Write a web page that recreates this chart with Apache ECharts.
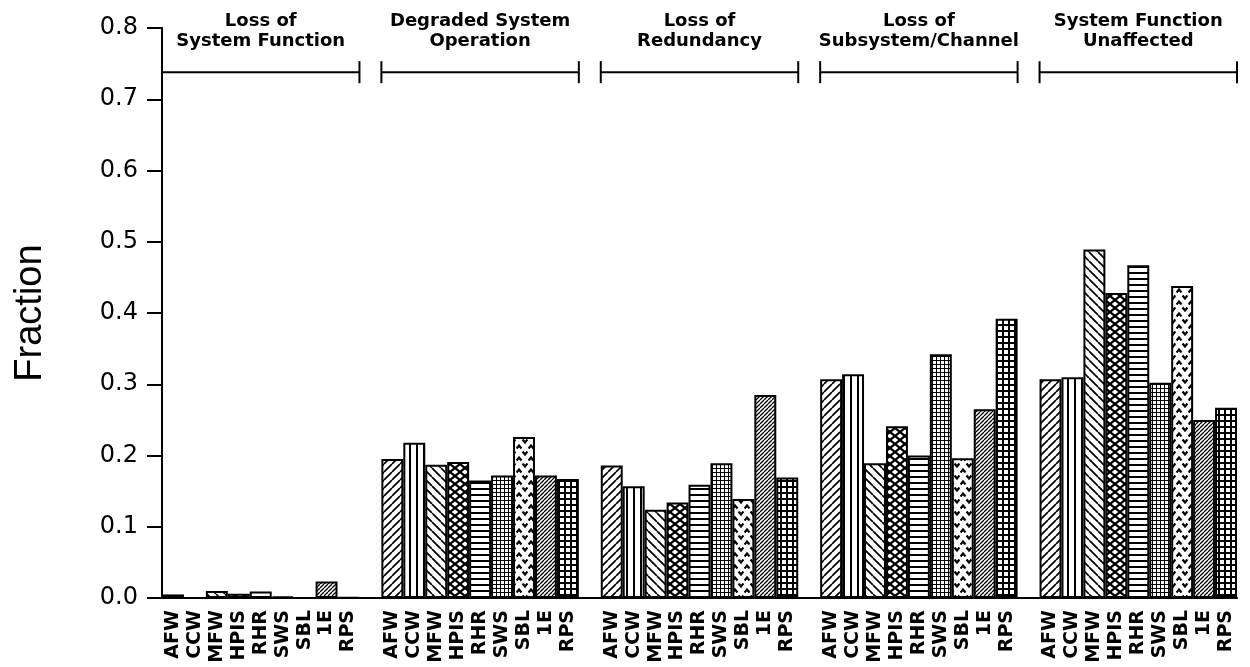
<!DOCTYPE html>
<html>
<head>
<meta charset="utf-8">
<title>Fraction by failure effect</title>
<script src="https://cdn.jsdelivr.net/npm/echarts@6/dist/echarts.min.js"></script>
<style>
  html, body { margin: 0; padding: 0; background: #fff; }
  #main { width: 1250px; height: 667px; }
</style>
</head>
<body>
<div id="main"></div>
<script>
// data
var systems = ["AFW", "CCW", "MFW", "HPIS", "RHR", "SWS", "SBL", "1E", "RPS"];
var groupTitles = [
  ["Loss of", "System Function"],
  ["Degraded System", "Operation"],
  ["Loss of", "Redundancy"],
  ["Loss of", "Subsystem/Channel"],
  ["System Function", "Unaffected"]
];
var lossOfFunction = [0.005, 0.0, 0.01, 0.006, 0.009, 0.002, 0.0, 0.023, 0.001];
var degradedOperation = [0.195, 0.218, 0.187, 0.191, 0.165, 0.172, 0.226, 0.172, 0.167];
var lossOfRedundancy = [0.186, 0.157, 0.124, 0.134, 0.159, 0.189, 0.139, 0.285, 0.169];
var lossOfSubsystem = [0.307, 0.314, 0.189, 0.241, 0.2, 0.342, 0.196, 0.265, 0.392];
var functionUnaffected = [0.307, 0.31, 0.489, 0.428, 0.467, 0.302, 0.438, 0.25, 0.267];
var yTicks = [0, 0.1, 0.2, 0.3, 0.4, 0.5, 0.6, 0.7, 0.8];

var groupValues = [lossOfFunction, degradedOperation, lossOfRedundancy, lossOfSubsystem, functionUnaffected];

void (function() {
  var myChart = echarts.init(document.getElementById("main"));
  var font = "DejaVu Sans";

  // hatch patterns, one per system
  function tile(w, h, draw) {
    var c = document.createElement("canvas");
    c.width = w;
    c.height = h;
    var ctx = c.getContext("2d");
    ctx.fillStyle = "#fff";
    ctx.fillRect(0, 0, w, h);
    ctx.strokeStyle = "#000";
    ctx.fillStyle = "#000";
    draw(ctx, w, h);
    return { image: c, repeat: "repeat" };
  }
  function diag(ctx, s, up) {
    ctx.beginPath();
    for (var k = -s; k <= s; k += s) {
      if (up) {
        ctx.moveTo(k, s);
        ctx.lineTo(k + s, 0);
      } else {
        ctx.moveTo(k, 0);
        ctx.lineTo(k + s, s);
      }
    }
    ctx.stroke();
  }
  var patterns = [
    tile(8, 8, function(ctx, w) { ctx.lineWidth = 1.7; diag(ctx, w, true); }),
    tile(7, 4, function(ctx) { ctx.fillRect(3, 0, 2, 4); }),
    tile(9, 9, function(ctx, w) { ctx.lineWidth = 1.7; diag(ctx, w, false); }),
    tile(10, 8, function(ctx) {
      ctx.lineWidth = 2.2;
      ctx.beginPath();
      ctx.moveTo(0, 0); ctx.lineTo(10, 8);
      ctx.moveTo(10, 0); ctx.lineTo(0, 8);
      ctx.stroke();
    }),
    tile(4, 6, function(ctx) { ctx.fillRect(0, 2, 4, 2); }),
    tile(4, 4, function(ctx) { ctx.fillRect(0, 0, 4, 1); ctx.fillRect(0, 0, 1, 4); }),
    tile(12, 12, function(ctx) {
      ctx.lineWidth = 2.2;
      ctx.beginPath();
      ctx.moveTo(0.5, 4.5); ctx.lineTo(3, 1.5); ctx.lineTo(5.5, 4.5);
      ctx.moveTo(6.5, 7.5); ctx.lineTo(9, 10.5); ctx.lineTo(11.5, 7.5);
      ctx.stroke();
    }),
    tile(4, 4, function(ctx, w) { ctx.lineWidth = 1.3; diag(ctx, w, true); }),
    tile(6, 6, function(ctx) { ctx.fillRect(0, 0, 6, 2); ctx.fillRect(0, 0, 2, 6); })
  ];

  // flatten groups into one category axis with a blank slot between groups
  var categories = [];
  var seriesData = [];
  for (var g = 0; g < groupValues.length; g++) {
    if (g > 0) {
      categories.push(" ".repeat(g));
      seriesData.push("-");
    }
    for (var i = 0; i < systems.length; i++) {
      categories.push(systems[i] + "_" + g);
      seriesData.push({
        value: groupValues[g][i],
        itemStyle: { color: patterns[i] }
      });
    }
  }

  var option = {
    backgroundColor: "#fff",
    animation: false,
    grid: { left: 162, right: 13, top: 28, bottom: 69 },
    xAxis: {
      type: "category",
      data: categories,
      axisLine: { lineStyle: { color: "#000", width: 2 } },
      axisTick: { show: false },
      axisLabel: {
        interval: 0,
        rotate: 90,
        margin: 12,
        color: "#000",
        fontFamily: font,
        fontWeight: "bold",
        fontSize: 19,
        formatter: function(v) { return v.trim() ? v.split("_")[0] : ""; }
      }
    },
    yAxis: {
      type: "value",
      min: yTicks[0],
      max: yTicks[yTicks.length - 1],
      interval: 0.1,
      name: "Fraction",
      nameLocation: "middle",
      nameGap: 112,
      nameTextStyle: { color: "#000", fontFamily: "Liberation Sans", fontSize: 38 },
      splitLine: { show: false },
      axisLine: { show: true, lineStyle: { color: "#000", width: 2 } },
      axisTick: { show: true, length: 15, lineStyle: { color: "#000", width: 2 } },
      axisLabel: {
        margin: 24,
        color: "#000",
        fontFamily: font,
        fontSize: 24,
        formatter: function(v) { return v.toFixed(1); }
      }
    },
    series: [
      {
        type: "bar",
        data: seriesData,
        barWidth: "100%",
        itemStyle: { borderColor: "#000", borderWidth: 2 }
      }
    ]
  };

  myChart.setOption(option);

  // group headers with brackets, placed through the chart scales
  var graphics = [];
  var half = (myChart.convertToPixel({ xAxisIndex: 0 }, 1) - myChart.convertToPixel({ xAxisIndex: 0 }, 0)) / 2;
  var yBracket = myChart.convertToPixel({ yAxisIndex: 0 }, 0.738);
  var yTitle = myChart.convertToPixel({ yAxisIndex: 0 }, 0.796);
  for (var k = 0; k < groupTitles.length; k++) {
    var first = k * (systems.length + 1);
    var last = first + systems.length - 1;
    var x0 = myChart.convertToPixel({ xAxisIndex: 0 }, first) - half;
    var x1 = myChart.convertToPixel({ xAxisIndex: 0 }, last) + half;
    var style = { stroke: "#000", lineWidth: 2 };
    graphics.push({ type: "line", shape: { x1: x0, y1: yBracket, x2: x1, y2: yBracket }, style: style });
    graphics.push({ type: "line", shape: { x1: x0, y1: yBracket - 11, x2: x0, y2: yBracket + 11 }, style: style });
    graphics.push({ type: "line", shape: { x1: x1, y1: yBracket - 11, x2: x1, y2: yBracket + 11 }, style: style });
    graphics.push({
      type: "text",
      x: (x0 + x1) / 2,
      y: yTitle,
      style: {
        text: groupTitles[k].join("\n"),
        align: "center",
        verticalAlign: "middle",
        lineHeight: 20,
        fill: "#000",
        fontFamily: font,
        fontWeight: "bold",
        fontSize: 18
      }
    });
  }
  myChart.setOption({ graphic: graphics });
})();
</script>
</body>
</html>
